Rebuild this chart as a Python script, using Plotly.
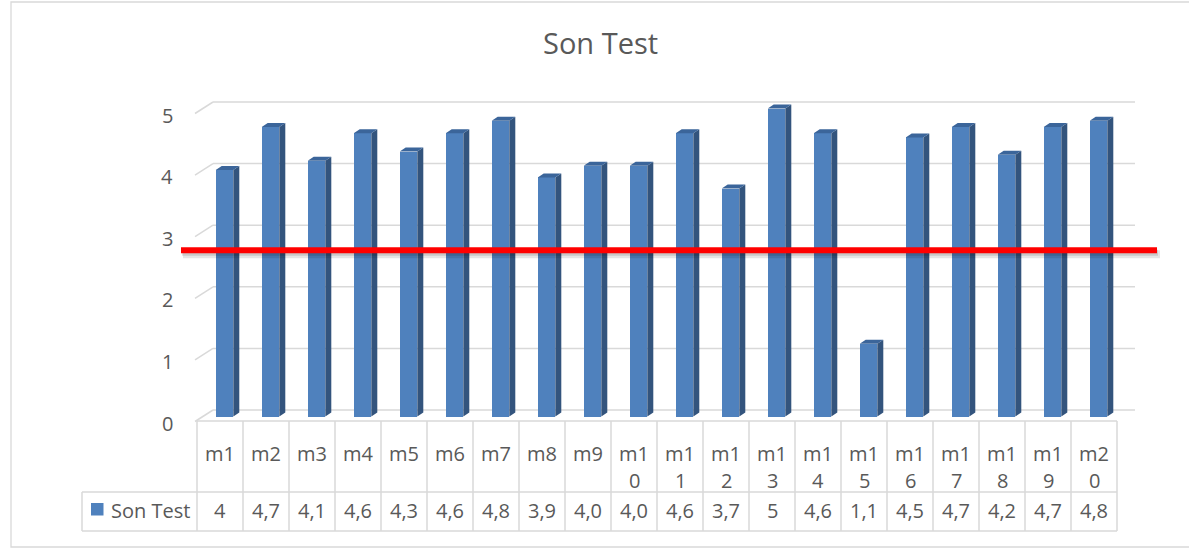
import plotly.graph_objects as go

# ---------------- data ----------------
categories = ["m1", "m2", "m3", "m4", "m5", "m6", "m7", "m8", "m9", "m10",
              "m11", "m12", "m13", "m14", "m15", "m16", "m17", "m18", "m19", "m20"]
values = [4.0, 4.7, 4.15, 4.6, 4.3, 4.6, 4.8, 3.88, 4.07, 4.07,
          4.6, 3.7, 5.0, 4.6, 1.18, 4.53, 4.7, 4.25, 4.7, 4.8]
value_labels = ["4", "4,7", "4,1", "4,6", "4,3", "4,6", "4,8", "3,9", "4,0", "4,0",
                "4,6", "3,7", "5", "4,6", "1,1", "4,5", "4,7", "4,2", "4,7", "4,8"]
y_ticks = [0, 1, 2, 3, 4, 5]
threshold = 2.7
series_name = "Son Test"
chart_title = "Son Test"

# ---------------- geometry / style ----------------
W, H = 1189, 550
COL0, COLW = 197.0, 46.0      # table left edge and column width (px)
BASE, UNIT = 416.5, 61.6      # zero of bar plane (px) and px per unit
FONT = "Open Sans"
TXT = "#595959"
GRID = "#D9D9D9"
FRONT = "#4F81BD"
SIDE = "#33547D"
TOP = "#3B659A"
FS = 20


def px2x(px):
    return (px - COL0) / COLW - 0.5


def px2y(py):
    return (BASE - py) / UNIT


n = len(categories)
xs = list(range(n))
bar_w = 17.6 / COLW
bar_off = (4.5 - 8.8) / COLW
ddx, ddy = 6.0 / COLW, 4.0 / UNIT

fig = go.Figure()

# front faces of bars
fig.add_trace(go.Bar(x=xs, y=values, width=bar_w, offset=bar_off,
                     marker=dict(color=FRONT, line=dict(width=0)),
                     showlegend=False, hoverinfo="skip"))

# side and top faces
sx, sy, tx, ty = [], [], [], []
for i, v in enumerate(values):
    xl = i + bar_off
    xr = xl + bar_w
    sx += [xr, xr, xr + ddx, xr + ddx, xr, None]
    sy += [0, v, v + ddy, ddy, 0, None]
    tx += [xl, xr, xr + ddx, xl + ddx, xl, None]
    ty += [v, v, v + ddy, v + ddy, v, None]
fig.add_trace(go.Scatter(x=sx, y=sy, mode="lines", fill="toself", fillcolor=SIDE,
                         line=dict(width=0, color=SIDE), showlegend=False, hoverinfo="skip"))
fig.add_trace(go.Scatter(x=tx, y=ty, mode="lines", fill="toself", fillcolor=TOP,
                         line=dict(width=0, color=TOP), showlegend=False, hoverinfo="skip"))

shapes = []
annotations = []

# gridlines (back wall + left diagonal)
for v in y_ticks:
    yf = v - 5.0 / UNIT
    yb = v + 6.5 / UNIT
    shapes.append(dict(type="line", xref="x", yref="y", x0=px2x(195), y0=yf,
                       x1=px2x(213), y1=yb, line=dict(color=GRID, width=1.5), layer="below"))
    shapes.append(dict(type="line", xref="x", yref="y", x0=px2x(213), y0=yb,
                       x1=px2x(1135), y1=yb, line=dict(color=GRID, width=1.5), layer="below"))
    annotations.append(dict(xref="x", yref="y", x=px2x(175), y=v - 6.5 / UNIT,
                            text=str(v), showarrow=False, xanchor="right", yanchor="middle",
                            font=dict(family=FONT, size=FS, color=TXT)))

# data table lines
def hline(py, x0, x1):
    shapes.append(dict(type="line", xref="x", yref="y", x0=px2x(x0), x1=px2x(x1),
                       y0=px2y(py), y1=px2y(py), line=dict(color=GRID, width=1.5)))


def vline(px, y0, y1):
    shapes.append(dict(type="line", xref="x", yref="y", x0=px2x(px), x1=px2x(px),
                       y0=px2y(y0), y1=px2y(y1), line=dict(color=GRID, width=1.5)))


hline(421, COL0, COL0 + COLW * n)
hline(492, 82, COL0 + COLW * n)
hline(531, 82, COL0 + COLW * n)
for k in range(n + 1):
    vline(COL0 + COLW * k, 421, 531)
vline(82, 492, 531)

# table text
for i, (c, lab) in enumerate(zip(categories, value_labels)):
    first, second = c[:2], c[2:]
    annotations.append(dict(xref="x", yref="y", x=i, y=px2y(453), text=first,
                            showarrow=False, font=dict(family=FONT, size=FS, color=TXT)))
    if second:
        annotations.append(dict(xref="x", yref="y", x=i, y=px2y(480), text=second,
                                showarrow=False, font=dict(family=FONT, size=FS, color=TXT)))
    annotations.append(dict(xref="x", yref="y", x=i, y=px2y(510), text=lab,
                            showarrow=False, font=dict(family=FONT, size=FS, color=TXT)))

# legend key in table
shapes.append(dict(type="rect", xref="x", yref="y", x0=px2x(91), x1=px2x(103.5),
                   y0=px2y(503), y1=px2y(515.5), fillcolor=FRONT, line=dict(width=0)))
annotations.append(dict(xref="x", yref="y", x=px2x(109), y=px2y(510), text=series_name,
                        xanchor="left", showarrow=False, font=dict(family=FONT, size=FS, color=TXT)))

# threshold line with soft shadow
shapes.append(dict(type="line", xref="x", yref="y", x0=px2x(183), x1=px2x(1160),
                   y0=threshold - 4 / UNIT, y1=threshold - 4 / UNIT,
                   line=dict(color="rgba(0,0,0,0.10)", width=8)))
shapes.append(dict(type="line", xref="x", yref="y", x0=px2x(182), x1=px2x(1158),
                   y0=threshold - 2.5 / UNIT, y1=threshold - 2.5 / UNIT,
                   line=dict(color="rgba(0,0,0,0.12)", width=6)))
shapes.append(dict(type="line", xref="x", yref="y", x0=px2x(181), x1=px2x(1157),
                   y0=threshold, y1=threshold, line=dict(color="#FF0000", width=6)))

# chart border
shapes.append(dict(type="rect", xref="paper", yref="paper", x0=11 / W, x1=1200 / W,
                   y0=1 - 547 / H, y1=1 - 2 / H, line=dict(color=GRID, width=1.3), layer="below"))

# title
annotations.append(dict(xref="paper", yref="paper", x=600 / W, y=1 - 43 / H, text=chart_title,
                        showarrow=False, xanchor="center", yanchor="middle",
                        font=dict(family=FONT, size=29, color=TXT)))

fig.update_layout(
    width=W, height=H, autosize=False,
    margin=dict(l=0, r=0, t=0, b=0, pad=0),
    paper_bgcolor="white", plot_bgcolor="white",
    xaxis=dict(range=[px2x(0), px2x(W)], visible=False, fixedrange=True),
    yaxis=dict(range=[px2y(H), px2y(0)], visible=False, fixedrange=True),
    shapes=shapes, annotations=annotations, showlegend=False, bargap=0,
)

fig.write_html("out.html", config={"displayModeBar": False},
               post_script="document.body.style.margin='0';document.body.style.overflow='hidden';")
